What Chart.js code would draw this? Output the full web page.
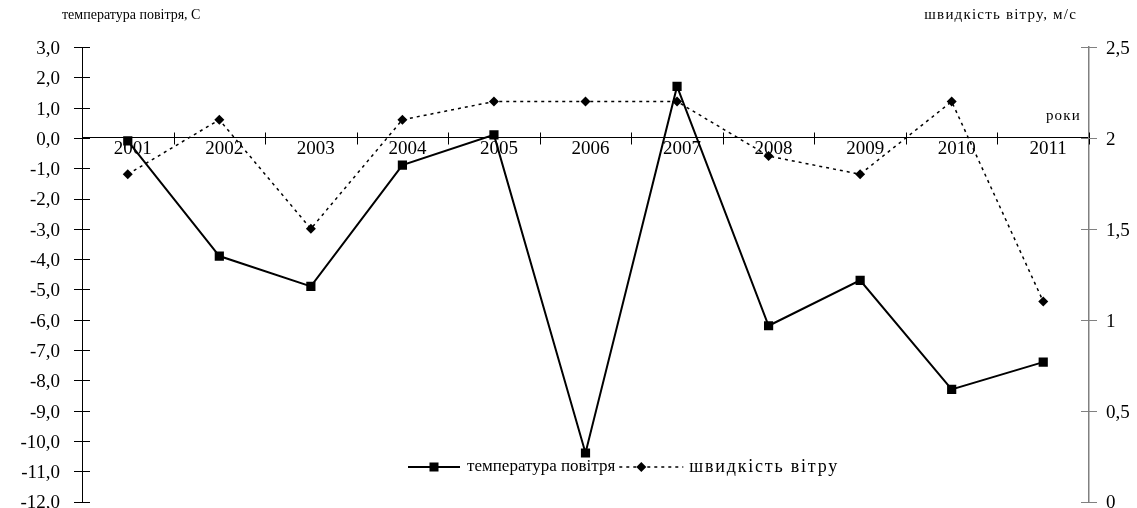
<!DOCTYPE html>
<html lang="uk">
<head>
<meta charset="UTF-8">
<title>Температура повітря і швидкість вітру</title>
<script src="https://cdn.jsdelivr.net/npm/chart.js"></script>
<style>
  body { margin: 0; background: #fff; }
  canvas { display: block; }
</style>
</head>
<body>
<canvas id="grafik" width="1137" height="508"></canvas>
<script>
// дані з рисунка
const roky = ['2001', '2002', '2003', '2004', '2005', '2006', '2007', '2008', '2009', '2010', '2011'];
const temperatura = [-0.1, -3.9, -4.9, -0.9, 0.1, -10.4, 1.7, -6.2, -4.7, -8.3, -7.4];
const viter = [1.8, 2.1, 1.5, 2.1, 2.2, 2.2, 2.2, 1.9, 1.8, 2.2, 1.1];
const tempMezhi = [-12, 3];
const viterMezhi = [0, 2.5];

const shrift = '"Liberation Serif", "Times New Roman", serif';

// засічки, що перетинають осі, підписи осей і легенда
const rozmitka = {
    id: 'rozmitka',
    afterDraw(chart) {
        const { ctx, chartArea: a, scales: { x, y, y1 } } = chart;
        const ds = chart.data.datasets;
        ctx.save();
        ctx.lineWidth = 1;
        ctx.strokeStyle = '#000';
        ctx.beginPath();
        y.ticks.forEach(t => {
            const p = Math.round(y.getPixelForValue(t.value)) + 0.5;
            ctx.moveTo(a.left - 8, p);
            ctx.lineTo(a.left + 8, p);
        });
        const y0 = Math.round(y.getPixelForValue(0)) + 0.5;
        const krok = x.getPixelForValue(1) - x.getPixelForValue(0);
        for (let i = 0; i <= roky.length; i++) {
            const px = Math.round(x.getPixelForValue(i) - krok / 2) + 0.5;
            ctx.moveTo(px, y0 - 6);
            ctx.lineTo(px, y0 + 6);
        }
        ctx.stroke();

        ctx.strokeStyle = '#808080';
        ctx.beginPath();
        y1.ticks.forEach(t => {
            const p = Math.round(y1.getPixelForValue(t.value)) + 0.5;
            ctx.moveTo(a.right - 8, p);
            ctx.lineTo(a.right + 8, p);
        });
        ctx.stroke();

        // назви осей
        ctx.fillStyle = '#000';
        ctx.textBaseline = 'middle';
        ctx.font = '14px ' + shrift;
        ctx.textAlign = 'left';
        ctx.fillText('температура повітря, С', 62, 15);
        ctx.font = '15px ' + shrift;
        ctx.letterSpacing = '1.2px';
        ctx.textAlign = 'right';
        ctx.fillText('швидкість вітру, м/с', 1077, 15);
        ctx.fillText('роки', 1081, 116);
        ctx.letterSpacing = '0px';

        // легенда
        const ly = 467;
        let lx = 408;
        ctx.strokeStyle = '#000';
        ctx.lineWidth = 2;
        ctx.beginPath();
        ctx.moveTo(lx, ly);
        ctx.lineTo(lx + 52, ly);
        ctx.stroke();
        ctx.fillRect(lx + 21.5, ly - 4.5, 9, 9);
        lx += 59;
        ctx.textAlign = 'left';
        ctx.font = '17px ' + shrift;
        ctx.fillText(ds[0].label, lx, ly);
        lx += ctx.measureText(ds[0].label).width + 4;

        ctx.lineWidth = 1.5;
        ctx.setLineDash([3, 4]);
        ctx.beginPath();
        ctx.moveTo(lx, ly);
        ctx.lineTo(lx + 64, ly);
        ctx.stroke();
        ctx.setLineDash([]);
        ctx.beginPath();
        ctx.moveTo(lx + 22, ly - 5);
        ctx.lineTo(lx + 27, ly);
        ctx.lineTo(lx + 22, ly + 5);
        ctx.lineTo(lx + 17, ly);
        ctx.closePath();
        ctx.fill();
        lx += 70;
        ctx.font = '18px ' + shrift;
        ctx.letterSpacing = '1.8px';
        ctx.fillText(ds[1].label, lx, ly);
        ctx.restore();
    }
};

new Chart(document.getElementById('grafik'), {
    type: 'line',
    data: {
        labels: roky,
        datasets: [
            {
                label: 'температура повітря',
                data: temperatura,
                yAxisID: 'y',
                borderColor: '#000',
                backgroundColor: '#000',
                borderWidth: 2,
                pointStyle: 'rect',
                pointRadius: 6.5,
                pointBorderWidth: 0,
                pointBackgroundColor: '#000',
                tension: 0
            },
            {
                label: 'швидкість вітру',
                data: viter,
                yAxisID: 'y1',
                borderColor: '#000',
                backgroundColor: '#000',
                borderWidth: 1.5,
                borderDash: [3, 4],
                pointStyle: 'rectRot',
                pointRadius: 5,
                pointBorderWidth: 0,
                pointBackgroundColor: '#000',
                tension: 0
            }
        ]
    },
    options: {
        responsive: false,
        animation: false,
        layout: { padding: { left: 0, right: 0, top: 47, bottom: 6 } },
        plugins: {
            tooltip: { enabled: false },
            legend: { display: false }
        },
        scales: {
            x: {
                type: 'category',
                position: { y: 0 },
                offset: true,
                grid: { display: false, drawTicks: false },
                border: { display: true, color: '#000', width: 1 },
                ticks: {
                    color: '#000',
                    font: { family: shrift, size: 19 },
                    padding: 0,
                    labelOffset: 5,
                    maxRotation: 0,
                    autoSkip: false
                },
                afterFit(s) { s.paddingLeft = 0; s.paddingRight = 0; }
            },
            y: {
                type: 'linear',
                position: 'left',
                min: tempMezhi[0],
                max: tempMezhi[1],
                grid: { display: false, drawTicks: false },
                border: { display: true, color: '#000', width: 1 },
                ticks: {
                    stepSize: 1,
                    autoSkip: false,
                    color: '#000',
                    font: { family: shrift, size: 19 },
                    padding: 22,
                    labelOffset: 2,
                    callback: v => v.toFixed(1).replace('.', ',')
                },
                afterFit(s) { s.width = 82; s.paddingTop = 0; s.paddingBottom = 0; }
            },
            y1: {
                type: 'linear',
                position: 'right',
                min: viterMezhi[0],
                max: viterMezhi[1],
                grid: { display: false, drawTicks: false },
                border: { display: true, color: '#808080', width: 1.5 },
                ticks: {
                    stepSize: 0.5,
                    autoSkip: false,
                    color: '#000',
                    font: { family: shrift, size: 19 },
                    padding: 17,
                    labelOffset: 2,
                    callback: v => String(v).replace('.', ',')
                },
                afterFit(s) { s.width = 48; s.paddingTop = 0; s.paddingBottom = 0; }
            }
        }
    },
    plugins: [rozmitka]
});
</script>
</body>
</html>
